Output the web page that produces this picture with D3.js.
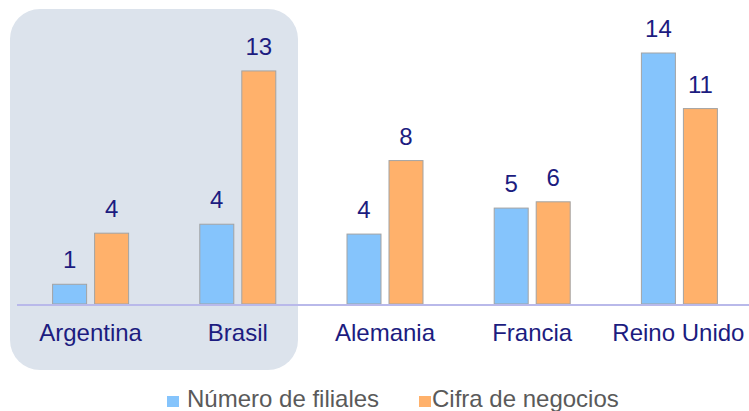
<!DOCTYPE html>
<html lang="es">
<head>
<meta charset="UTF-8" />
<title>Filiales y cifra de negocios</title>
<script src="https://d3js.org/d3.v7.min.js"></script>
<style>
body {
    margin: 0;
    padding: 0;
    background: #fff;
    font-family: Arial, "Liberation Sans", sans-serif;
}
svg { display: block; }
</style>
</head>
<body>
<svg width="749" height="411"></svg>
<script>
// data (bar heights; labels show them rounded)
const paises = ["Argentina", "Brasil", "Alemania", "Francia", "Reino Unido"];
const filiales = [1.1, 4.45, 3.9, 5.35, 14];
const negocios = [3.95, 13, 8, 5.7, 10.9];
const serieNombres = ["Número de filiales", "Cifra de negocios"];
const colores = ["#85c4fc", "#ffb16b"];

const svg = d3.select("svg");
const baseline = 304;
const plotTop = 53;
const fmt = d3.format(".0f");

const x = d3.scaleBand()
    .domain(paises)
    .range([17, 753])
    .paddingInner(0)
    .paddingOuter(0);

const y = d3.scaleLinear()
    .domain([0, 14])
    .range([baseline, plotTop]);

const barW = 34, gap = 8;

// highlight panel behind Argentina + Brasil
svg.append("rect")
    .attr("x", 10).attr("y", 9)
    .attr("width", 288).attr("height", 361)
    .attr("rx", 30).attr("ry", 30)
    .attr("fill", "#dce3ec");

const series = [filiales, negocios];

series.forEach((vals, s) => {
    const g = svg.append("g");
    const xs = (d, i) => x(paises[i]) + x.bandwidth() / 2 + (s === 0 ? -gap / 2 - barW : gap / 2);
    g.selectAll("rect")
        .data(vals)
        .enter()
        .append("rect")
        .attr("x", xs)
        .attr("y", d => y(d))
        .attr("width", barW)
        .attr("height", d => baseline - y(d))
        .attr("fill", colores[s])
        .attr("stroke", "#a3a3a3")
        .attr("stroke-width", 1);

    g.selectAll("text")
        .data(vals)
        .enter()
        .append("text")
        .attr("x", (d, i) => xs(d, i) + barW / 2)
        .attr("y", d => y(d) - 16)
        .attr("text-anchor", "middle")
        .attr("font-size", 24)
        .attr("fill", "#1c1c80")
        .text(d => fmt(d));
});

// axis line
svg.append("line")
    .attr("x1", 17).attr("x2", 749)
    .attr("y1", baseline + 1).attr("y2", baseline + 1)
    .attr("stroke", "#b9b9ea")
    .attr("stroke-width", 2);

// category labels
svg.append("g")
    .selectAll("text")
    .data(paises)
    .enter()
    .append("text")
    .attr("x", d => x(d) + x.bandwidth() / 2 - (d === "Reino Unido" ? 1 : 0))
    .attr("y", 341)
    .attr("text-anchor", "middle")
    .attr("font-size", 24)
    .attr("fill", "#1c1c80")
    .text(d => d);

// legend
const legX = [167, 419];
const legTextX = [187, 432];
const leg = svg.append("g");
serieNombres.forEach((n, i) => {
    leg.append("rect")
        .attr("x", legX[i]).attr("y", 396)
        .attr("width", 12).attr("height", 11)
        .attr("fill", colores[i]);
    leg.append("text")
        .attr("x", legTextX[i])
        .attr("y", 407)
        .attr("font-size", 24)
        .attr("fill", "#5a5a5a")
        .text(n);
});
</script>
</body>
</html>
